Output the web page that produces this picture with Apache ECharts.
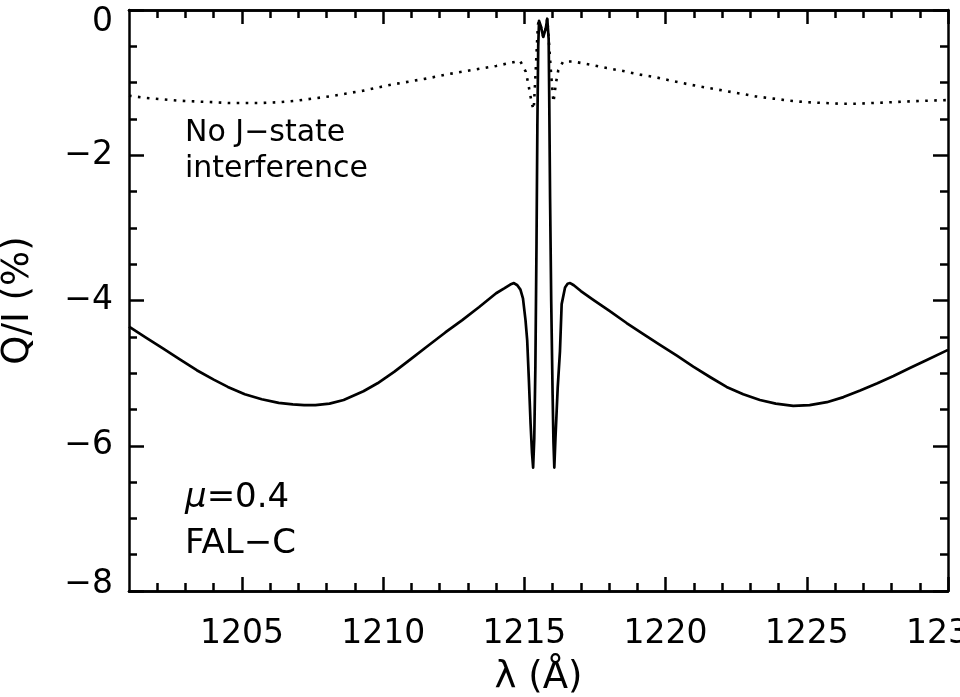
<!DOCTYPE html>
<html>
<head>
<meta charset="utf-8">
<script src="https://cdn.jsdelivr.net/npm/echarts@6/dist/echarts.min.js"></script>
<style>
  html, body { margin: 0; padding: 0; background: #fff; }
  #chart { width: 960px; height: 697px; }
</style>
</head>
<body>
<div id="chart"></div>
<script>
// Q/I profile across Lyman-alpha, with J-state interference (solid)
const solidLambda = [
  1201.0, 1201.6, 1202.2, 1202.8, 1203.4, 1204.0, 1204.5, 1205.1, 1205.7, 1206.3,
  1206.8, 1207.2, 1207.6, 1208.1, 1208.6, 1209.3, 1209.8, 1210.4, 1211.0, 1211.6,
  1212.2, 1212.8, 1213.4, 1214.0, 1214.3, 1214.5, 1214.63, 1214.75, 1214.86, 1214.95,
  1215.04, 1215.1, 1215.16, 1215.22, 1215.27, 1215.31, 1215.35, 1215.39, 1215.43, 1215.46,
  1215.49, 1215.52, 1215.58, 1215.67, 1215.76, 1215.81, 1215.84, 1215.86, 1215.88, 1215.91,
  1215.95, 1216.0, 1216.03, 1216.06, 1216.1, 1216.18, 1216.26, 1216.32, 1216.44, 1216.53,
  1216.62, 1216.75, 1217.0, 1217.44, 1218.0, 1218.62, 1219.2, 1219.8, 1220.4, 1220.98,
  1221.6, 1222.16, 1222.75, 1223.34, 1223.9, 1224.52, 1225.1, 1225.71, 1226.3, 1226.89,
  1227.5, 1228.07, 1228.65, 1229.25, 1230.0
];
const solidQI = [
  -4.36, -4.51, -4.66, -4.81, -4.96, -5.09, -5.19, -5.29, -5.36, -5.41,
  -5.43, -5.44, -5.44, -5.42, -5.37, -5.25, -5.14, -4.98, -4.80, -4.62,
  -4.44, -4.27, -4.09, -3.90, -3.83, -3.78, -3.76, -3.79, -3.85, -3.97,
  -4.27, -4.55, -5.1, -5.7, -6.1, -6.3, -5.9, -4.9, -3.2, -1.6,
  -0.5, -0.15, -0.22, -0.37, -0.25, -0.12, -0.11, -0.4, -1.2, -2.6,
  -4.0, -5.3, -5.95, -6.3, -5.9, -5.2, -4.7, -4.05, -3.82, -3.77,
  -3.76, -3.79, -3.87, -3.99, -4.14, -4.31, -4.46, -4.61, -4.76, -4.91,
  -5.06, -5.19, -5.29, -5.37, -5.42, -5.45, -5.44, -5.40, -5.33, -5.24,
  -5.14, -5.04, -4.93, -4.82, -4.68
];

// Same profile without J-state interference (dotted)
const dottedLambda = [
  1201.0, 1201.6, 1202.2, 1202.8, 1203.4, 1204.0, 1204.5, 1205.1, 1205.7, 1206.3,
  1206.9, 1207.5, 1208.1, 1208.7, 1209.3, 1209.9, 1210.4, 1211.0, 1211.6, 1212.2,
  1212.8, 1213.4, 1214.0, 1214.6, 1214.85, 1215.05, 1215.13, 1215.2, 1215.27, 1215.33,
  1215.38, 1215.43, 1215.48, 1215.52, 1215.58, 1215.67, 1215.76, 1215.81, 1215.84, 1215.88,
  1215.95, 1216.03, 1216.12, 1216.2, 1216.37, 1216.73, 1217.3, 1217.92, 1218.5, 1219.1,
  1219.7, 1220.27, 1220.9, 1221.46, 1222.05, 1222.64, 1223.2, 1223.82, 1224.4, 1225.0,
  1225.6, 1226.18, 1226.8, 1227.36, 1228.0, 1228.54, 1229.2, 1230.0
];
const dottedQI = [
  -1.18, -1.21, -1.23, -1.25, -1.26, -1.27, -1.28, -1.28, -1.28, -1.27,
  -1.25, -1.22, -1.19, -1.15, -1.11, -1.06, -1.02, -0.98, -0.94, -0.89,
  -0.85, -0.81, -0.77, -0.72, -0.70, -0.85, -1.0, -1.15, -1.30, -1.37,
  -1.0, -0.6, -0.2, -0.15, -0.22, -0.37, -0.25, -0.12, -0.11, -0.5,
  -0.9, -1.27, -1.0, -0.83, -0.71, -0.71, -0.75, -0.80, -0.84, -0.89,
  -0.93, -0.98, -1.03, -1.07, -1.11, -1.15, -1.19, -1.22, -1.25, -1.27,
  -1.28, -1.29, -1.29, -1.28, -1.27, -1.26, -1.25, -1.24
];

// Axis ticks and labels
const xMin = 1201, xMax = 1230;
const xMajorTicks = [1205, 1210, 1215, 1220, 1225, 1230];
const xMinorTicks = [1202, 1203, 1204, 1206, 1207, 1208, 1209, 1211, 1212, 1213, 1214,
  1216, 1217, 1218, 1219, 1221, 1222, 1223, 1224, 1226, 1227, 1228, 1229];
const yMin = -8, yMax = 0, yStep = 2;

const FONT = 'DejaVu Sans';
const INK = '#000';
const TICK_FONT = 33;
const TITLE_FONT = 37;
const NOTE_FONT = 34;

const pairs = (xs, ys) => xs.map((x, i) => [x, ys[i]]);

function xAxisDef(position, values, tickLen, withLabels) {
  return {
    type: 'value', min: xMin, max: xMax, position: position,
    axisLine: { show: true, onZero: false, lineStyle: { color: INK, width: 2.5 } },
    axisTick: { show: true, inside: true, length: tickLen, customValues: values,
                lineStyle: { color: INK, width: 2.5 } },
    axisLabel: withLabels ? { show: true, customValues: values, color: INK, fontFamily: FONT,
                fontSize: TICK_FONT, margin: 27, formatter: v => String(v) } : { show: false },
    splitLine: { show: false }
  };
}

// The end labels sit just inside the frame, so they are nudged toward the middle
function yLabel(v) {
  const s = v < 0 ? '\u2212' + Math.abs(v) : String(v);
  if (v === yMax) return '{top|' + s + '}';
  if (v === yMin) return '{bot|' + s + '}';
  return s;
}

function yAxisDef(position, withLabels) {
  return {
    type: 'value', min: yMin, max: yMax, interval: yStep, position: position,
    axisLine: { show: true, onZero: false, lineStyle: { color: INK, width: 2.5 } },
    axisTick: { show: true, inside: true, length: 15, lineStyle: { color: INK, width: 2.5 } },
    minorTick: { show: true, splitNumber: 4, length: 8, lineStyle: { color: INK, width: 2.5 } },
    axisLabel: withLabels ? {
      show: true, color: INK, fontFamily: FONT, fontSize: TICK_FONT, margin: 16,
      formatter: yLabel,
      rich: {
        top: { fontFamily: FONT, fontSize: TICK_FONT, color: INK, padding: [24, 0, 0, 0] },
        bot: { fontFamily: FONT, fontSize: TICK_FONT, color: INK, padding: [0, 0, 14, 0] }
      }
    } : { show: false },
    splitLine: { show: false },
    name: withLabels ? 'Q/I (%)' : '',
    nameLocation: 'middle', nameGap: 92,
    nameTextStyle: { color: INK, fontFamily: FONT, fontSize: TITLE_FONT }
  };
}

const chart = echarts.init(document.getElementById('chart'), null, { renderer: 'canvas' });
const bottomAxis = xAxisDef('bottom', xMajorTicks, 14, true);
bottomAxis.name = '\u03bb (\u00c5)';
bottomAxis.nameLocation = 'middle';
bottomAxis.nameGap = 69;
bottomAxis.nameTextStyle = { color: INK, fontFamily: FONT, fontSize: TITLE_FONT };

chart.setOption({
  animation: false,
  backgroundColor: '#fff',
  grid: { left: 129, right: 12, top: 10, bottom: 106, containLabel: false, outerBoundsMode: 'none' },
  xAxis: [
    bottomAxis,
    xAxisDef('bottom', xMinorTicks, 8, false),
    xAxisDef('top', xMajorTicks, 14, false),
    xAxisDef('top', xMinorTicks, 8, false)
  ],
  yAxis: [yAxisDef('left', true), yAxisDef('right', false)],
  series: [
    {
      type: 'line', data: pairs(dottedLambda, dottedQI), showSymbol: false,
      lineStyle: { color: INK, width: 2.6, type: [2.6, 6.4], cap: 'butt' }, z: 2
    },
    {
      type: 'line', data: pairs(solidLambda, solidQI), showSymbol: false,
      lineStyle: { color: INK, width: 2.7, join: 'round' }, z: 3
    }
  ],
  graphic: [
    { type: 'text', left: 185, top: 115,
      style: { text: 'No J\u2212state\ninterference', font: '30px "DejaVu Sans"', fill: INK, lineHeight: 36 } },
    { type: 'text', left: 185, top: 481,
      style: { text: '{mu|\u03bc}=0.4', font: NOTE_FONT + 'px "DejaVu Sans"', fill: INK,
               rich: { mu: { fontStyle: 'italic', fontFamily: FONT, fontSize: NOTE_FONT } } } },
    { type: 'text', left: 185, top: 527,
      style: { text: 'FAL\u2212C', font: NOTE_FONT + 'px "DejaVu Sans"', fill: INK } }
  ]
});
</script>
</body>
</html>
